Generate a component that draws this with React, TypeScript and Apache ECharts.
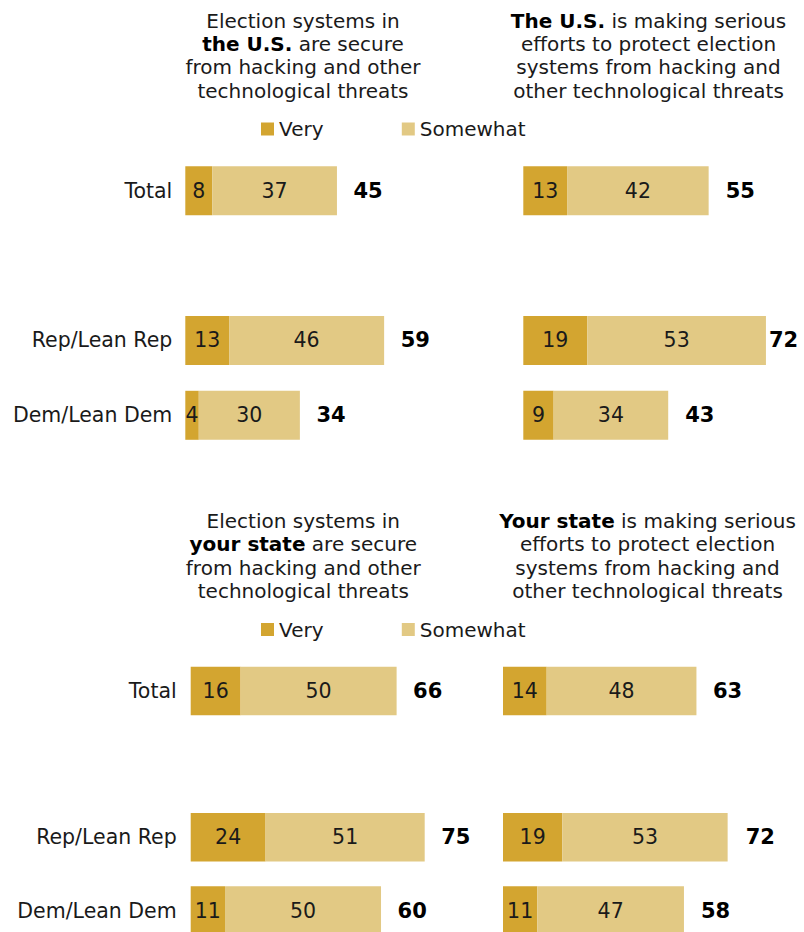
import React, { useEffect, useRef } from 'react';
import * as echarts from 'echarts';

// ---- data ----
const categories = ['Total', '', 'Rep/Lean Rep', 'Dem/Lean Dem'];
const legendItems = ['Very', 'Somewhat'];

const usSecureVery = [8, null, 13, 4];
const usSecureSomewhat = [37, null, 46, 30];
const usSecureNet = [45, null, 59, 34];

const usEffortsVery = [13, null, 19, 9];
const usEffortsSomewhat = [42, null, 53, 34];
const usEffortsNet = [55, null, 72, 43];

const stateSecureVery = [16, null, 24, 11];
const stateSecureSomewhat = [50, null, 51, 50];
const stateSecureNet = [66, null, 75, 60];

const stateEffortsVery = [14, null, 19, 11];
const stateEffortsSomewhat = [48, null, 53, 47];
const stateEffortsNet = [63, null, 72, 58];

const usSecureTitle = ['Election systems in', '{b|the U.S.} are secure', 'from hacking and other', 'technological threats'];
const usEffortsTitle = ['{b|The U.S.} is making serious', 'efforts to protect election', 'systems from hacking and', 'other technological threats'];
const stateSecureTitle = ['Election systems in', '{b|your state} are secure', 'from hacking and other', 'technological threats'];
const stateEffortsTitle = ['{b|Your state} is making serious', 'efforts to protect election', 'systems from hacking and', 'other technological threats'];

// ---- style ----
const FONT = 'DejaVu Sans';
const VERY_COLOR = '#D3A530';
const SOMEWHAT_COLOR = '#E2C984';
const TEXT = '#1a1a1a';

const panels = [
  { very: usSecureVery, some: usSecureSomewhat, net: usSecureNet, title: usSecureTitle,
    grid: { left: 185.3, top: 190.7, width: 269.6, height: 224.6 }, barWidth: 49, labels: true, labelMargin: 13,
    titleX: 303, titleY: 0, netDist: [16.5, 0, 16.5, 16.5] },
  { very: usEffortsVery, some: usEffortsSomewhat, net: usEffortsNet, title: usEffortsTitle,
    grid: { left: 523.3, top: 190.7, width: 269.6, height: 224.6 }, barWidth: 49, labels: false, labelMargin: 13,
    titleX: 648.5, titleY: 0, netDist: [17, 0, 3, 17] },
  { very: stateSecureVery, some: stateSecureSomewhat, net: stateSecureNet, title: stateSecureTitle,
    grid: { left: 190.7, top: 691, width: 249.6, height: 219.5 }, barWidth: 48.5, labels: true, labelMargin: 14,
    titleX: 303.3, titleY: 500.5, netDist: [16.5, 0, 16.5, 16.5] },
  { very: stateEffortsVery, some: stateEffortsSomewhat, net: stateEffortsNet, title: stateEffortsTitle,
    grid: { left: 503, top: 691, width: 249.6, height: 219.5 }, barWidth: 48.5, labels: false, labelMargin: 14,
    titleX: 647.5, titleY: 500.5, netDist: [16.5, 0, 18, 17] },
];

export default function App() {
  const ref = useRef<HTMLDivElement>(null);

  useEffect(() => {
    if (!ref.current) return;
    const chart = echarts.init(ref.current, null, { renderer: 'svg' });

    const grid: any[] = [];
    const xAxis: any[] = [];
    const yAxis: any[] = [];
    const series: any[] = [];
    const graphic: any[] = [];

    panels.forEach((p, i) => {
      grid.push({ ...p.grid, containLabel: false });
      xAxis.push({ type: 'value', gridIndex: i, min: 0, max: 80, show: false });
      yAxis.push({
        type: 'category', gridIndex: i, data: categories, inverse: true, boundaryGap: false,
        axisLine: { show: false }, axisTick: { show: false }, splitLine: { show: false },
        axisLabel: { show: p.labels, margin: p.labelMargin, fontSize: 20.5, color: TEXT, fontFamily: FONT },
      });
      const common = {
        type: 'bar', stack: 'p' + i, xAxisIndex: i, yAxisIndex: i, barWidth: p.barWidth,
      };
      series.push({
        ...common, name: 'Very', data: p.very.map((v) => (v == null ? '-' : v)),
        itemStyle: { color: VERY_COLOR },
        label: { show: true, position: 'inside', color: TEXT, fontSize: 20.5, fontFamily: FONT },
      });
      series.push({
        ...common, name: 'Somewhat', data: p.some.map((v) => (v == null ? '-' : v)),
        itemStyle: { color: SOMEWHAT_COLOR },
        label: { show: true, position: 'inside', color: TEXT, fontSize: 20.5, fontFamily: FONT },
      });
      series.push({
        ...common, name: 'NET', data: p.net.map((v, j) => (v == null ? '-' : {
          value: 0,
          label: { distance: p.netDist[j] },
        })),
        itemStyle: { color: 'transparent' },
        label: {
          show: true, position: 'right', color: '#000', fontSize: 21, fontWeight: 'bold', fontFamily: FONT,
          formatter: (params: any) => String(p.net[params.dataIndex]),
        },
      });
      p.title.forEach((line, k) => {
        graphic.push({
          type: 'text', x: p.titleX, y: p.titleY + 20.5 + k * 23.4,
          style: {
            text: line, align: 'center', verticalAlign: 'middle', fill: TEXT,
            fontSize: 20, fontFamily: FONT,
            rich: { b: { fontWeight: 'bold', fontSize: 20, fontFamily: FONT, fill: '#000' } },
          },
        });
      });
    });

    const legendBase = {
      data: legendItems, left: 261, itemWidth: 13, itemHeight: 13, itemGap: 78.3, padding: 0,
      icon: 'rect', selectedMode: false,
      textStyle: { fontSize: 20, fontFamily: FONT, color: TEXT, lineHeight: 20 },
    };

    chart.setOption({
      animation: false,
      backgroundColor: '#ffffff',
      textStyle: { fontFamily: FONT },
      legend: [
        { ...legendBase, top: 119 },
        { ...legendBase, top: 619.5 },
      ],
      grid, xAxis, yAxis, series, graphic,
    });

    return () => chart.dispose();
  }, []);

  return <div ref={ref} style={{ position: 'fixed', left: 0, top: 0, width: 804, height: 932 }} />;
}
